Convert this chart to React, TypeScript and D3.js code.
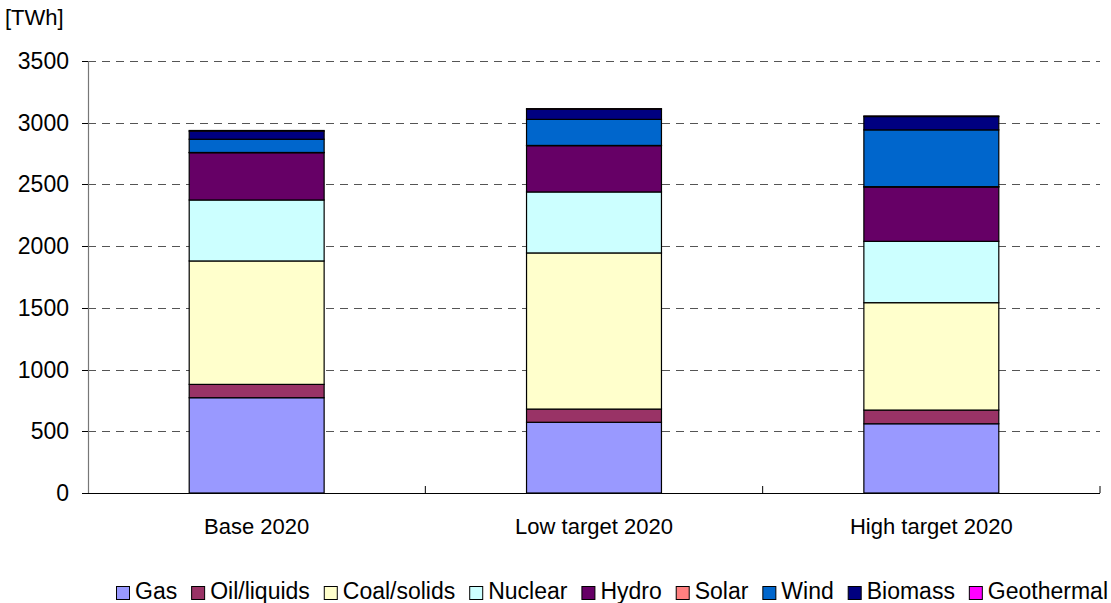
import React from "react";
import * as d3 from "d3";

const categories = ["Base 2020", "Low target 2020", "High target 2020"];
const seriesNames = ["Gas", "Oil/liquids", "Coal/solids", "Nuclear", "Hydro", "Solar", "Wind", "Biomass", "Geothermal"];
const seriesColors = ["#9999FF", "#993366", "#FFFFCC", "#CCFFFF", "#660066", "#FF8080", "#0066CC", "#000080", "#FF00FF"];
const gas = [772, 573, 561];
const oil = [108, 107, 111];
const coal = [1000, 1265, 870];
const nuclear = [494, 494, 497];
const hydro = [383, 375, 440];
const solar = [2, 2, 3];
const wind = [107, 211, 460];
const biomass = [66, 82, 108];
const geothermal = [5, 5, 5];
const yTicks = [0, 500, 1000, 1500, 2000, 2500, 3000, 3500];
const unitLabel = "[TWh]";

const W = 1111, H = 603;
const left = 88, right = 1100, top = 61, bottom = 493;
const FONT = "'Liberation Sans', Arial, sans-serif";

export default function App() {
  const seriesValues = [gas, oil, coal, nuclear, hydro, solar, wind, biomass, geothermal];
  const rows = categories.map((c, i) => {
    const r: any = { cat: c };
    seriesNames.forEach((s, k) => (r[s] = seriesValues[k][i]));
    return r;
  });
  const stacked = d3.stack().keys(seriesNames)(rows);
  const x = d3.scaleBand().domain(categories).range([left, right]).paddingInner(0.6).paddingOuter(0.3);
  const xOuter = d3.scaleBand().domain(categories).range([left, right]);
  const y = d3.scaleLinear().domain([0, 3500]).range([bottom, top]);

  // legend layout
  const fs = 23;
  let widths: number[] = seriesNames.map((s) => s.length * 11);
  if (typeof document !== "undefined") {
    const ctx = document.createElement("canvas").getContext("2d");
    if (ctx) {
      ctx.font = `${fs}px 'Liberation Sans', Arial, sans-serif`;
      widths = seriesNames.map((s) => ctx.measureText(s).width);
    }
  }
  const sq = 13, gapText = 6;
  const startX = 116, endX = 1108;
  const textTotal = widths.reduce((a, b) => a + b, 0) + seriesNames.length * (sq + gapText);
  const gapItem = (endX - startX - textTotal) / (seriesNames.length - 1);
  let lx = startX;
  const legendItems = seriesNames.map((s, i) => {
    const item = { name: s, x: lx, color: seriesColors[i] };
    lx += sq + gapText + widths[i] + gapItem;
    return item;
  });

  return (
    <svg width={W} height={H} style={{ position: "absolute", left: 0, top: 0, background: "#fff" }} fontFamily={FONT}>
      <text x={5} y={25} fontSize={22} fill="#000">{unitLabel}</text>
      {yTicks.filter((t) => t > 0).map((t) => (
        <line key={"g" + t} x1={left} x2={right} y1={Math.round(y(t)) + 0.5} y2={Math.round(y(t)) + 0.5}
          stroke="#555" strokeWidth={1} strokeDasharray="8,6" />
      ))}
      {stacked.map((layer, k) => (
        <g key={layer.key} fill={seriesColors[k]}>
          {layer.map((d, i) => (
            <rect key={i} x={x(categories[i])!} width={x.bandwidth()} y={y(d[1])} height={Math.max(0, y(d[0]) - y(d[1]))}
              stroke="#000" strokeWidth={1.2} />
          ))}
        </g>
      ))}
      <line x1={left + 0.5} x2={left + 0.5} y1={top} y2={bottom} stroke="#777" strokeWidth={1.2} />
      {yTicks.map((t) => (
        <g key={"t" + t}>
          <line x1={left - 6} x2={left} y1={Math.round(y(t)) + 0.5} y2={Math.round(y(t)) + 0.5} stroke="#000" />
          <text x={69} y={y(t)} dy="0.35em" textAnchor="end" fontSize={23} fill="#000">{t}</text>
        </g>
      ))}
      <line x1={left} x2={right} y1={bottom + 0.5} y2={bottom + 0.5} stroke="#000" strokeWidth={1.2} />
      {categories.map((c) => (
        <g key={c}>
          <line x1={xOuter(c)! + xOuter.bandwidth()} x2={xOuter(c)! + xOuter.bandwidth()} y1={bottom - 7} y2={bottom} stroke="#000" />
          <text x={x(c)! + x.bandwidth() / 2} y={bottom + 41} textAnchor="middle" fontSize={22} fill="#000">{c}</text>
        </g>
      ))}
      {legendItems.map((it) => (
        <g key={it.name}>
          <rect x={it.x + 0.5} y={586.5} width={sq} height={sq} fill={it.color} stroke="#000" strokeWidth={1} />
          <text x={it.x + sq + gapText} y={599} fontSize={fs} fill="#000">{it.name}</text>
        </g>
      ))}
    </svg>
  );
}
